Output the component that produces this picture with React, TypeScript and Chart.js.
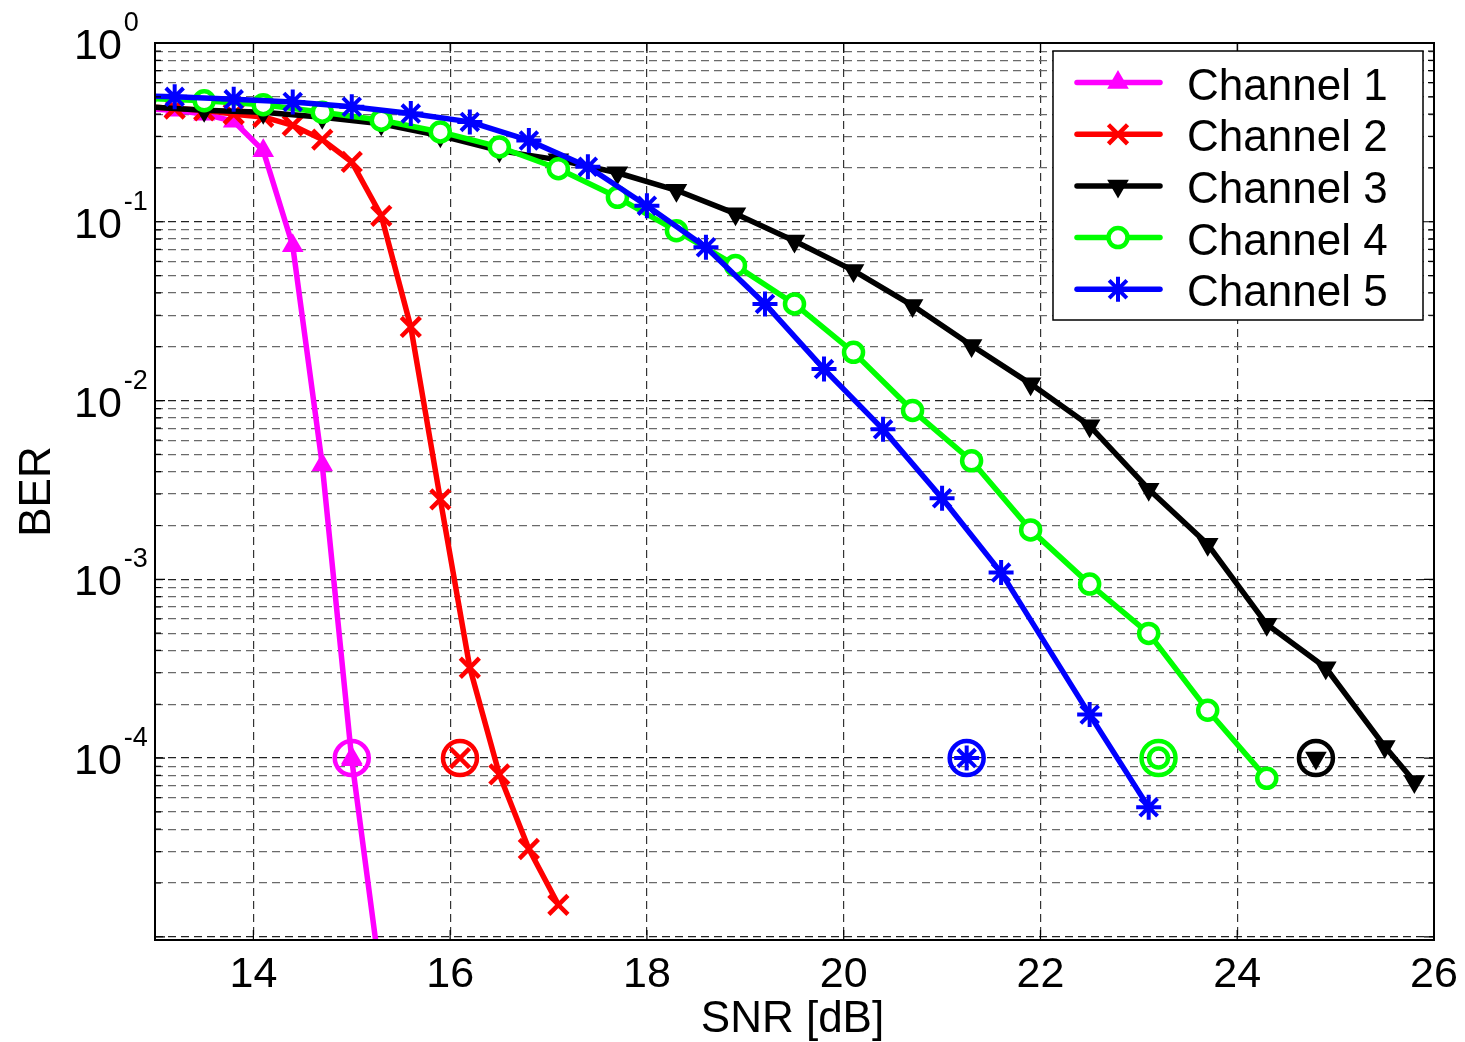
import React, { useEffect, useRef } from 'react';
import { Chart, registerables } from 'chart.js';

Chart.register(...registerables);

// ---------------- data ----------------
const channelNames = ['Channel 1', 'Channel 2', 'Channel 3', 'Channel 4', 'Channel 5'];
const channelColors = ['#ff00ff', '#ff0000', '#000000', '#00ff00', '#0000ff'];

const snrCh1 = [12.9, 13.2, 13.5, 13.8, 14.1, 14.4, 14.7, 15.0, 15.3];
const berCh1 = [0.43, 0.42, 0.4, 0.365, 0.25, 0.0734, 0.00436, 9.8e-5, 5.5e-6];

const snrCh2 = [12.9, 13.2, 13.5, 13.8, 14.1, 14.4, 14.7, 15.0, 15.3, 15.6, 15.9, 16.2, 16.5, 16.8, 17.1];
const berCh2 = [0.44, 0.43, 0.42, 0.4, 0.386, 0.346, 0.288, 0.216, 0.108, 0.0258, 0.0028, 3.2e-4, 8.1e-5, 3.1e-5, 1.51e-5];

const snrCh3 = [12.9, 13.5, 14.1, 14.7, 15.3, 15.9, 16.5, 17.1, 17.7, 18.3, 18.9, 19.5, 20.1, 20.7, 21.3, 21.9, 22.5, 23.1, 23.7, 24.3, 24.9, 25.5, 25.8];
const berCh3 = [0.44, 0.42, 0.41, 0.384, 0.353, 0.303, 0.25, 0.222, 0.188, 0.15, 0.111, 0.078, 0.0533, 0.034, 0.0203, 0.0124, 0.00722, 0.00319, 0.00157, 5.6e-4, 3.2e-4, 1.16e-4, 7.4e-5];

const snrCh4 = [12.9, 13.5, 14.1, 14.7, 15.3, 15.9, 16.5, 17.1, 17.7, 18.3, 18.9, 19.5, 20.1, 20.7, 21.3, 21.9, 22.5, 23.1, 23.7, 24.3];
const berCh4 = [0.49, 0.475, 0.452, 0.41, 0.37, 0.318, 0.262, 0.198, 0.137, 0.089, 0.057, 0.0347, 0.0186, 0.0088, 0.0046, 0.00189, 9.4e-4, 4.98e-4, 1.85e-4, 7.7e-5];

const snrCh5 = [12.6, 13.2, 13.8, 14.4, 15.0, 15.6, 16.2, 16.8, 17.4, 18.0, 18.6, 19.2, 19.8, 20.4, 21.0, 21.6, 22.5, 23.1];
const berCh5 = [0.51, 0.5, 0.484, 0.468, 0.44, 0.403, 0.362, 0.285, 0.203, 0.123, 0.072, 0.0347, 0.015, 0.0069, 0.00284, 0.00109, 1.75e-4, 5.3e-5];

// SNR required for the target BER (circled markers), per channel 1..5
const thresholdSnr = [15.0, 16.1, 24.8, 23.2, 21.25];
const thresholdBer = [1e-4, 1e-4, 1e-4, 1e-4, 1e-4];

// ---------------- axes ----------------
const xTicks = [14, 16, 18, 20, 22, 24, 26];
const yDecadeTicks = [1, 0.1, 0.01, 0.001, 0.0001];
const yExponentLabels = ['0', '-1', '-2', '-3', '-4'];
const yGridDecades = [1e-5, 1e-4, 1e-3, 1e-2, 1e-1];
const yGridMantissas = [1, 2, 3, 4, 5, 6, 7, 8, 9];
const xTitle = 'SNR [dB]';
const yTitle = 'BER';

const FONT = "'Liberation Sans', Arial, Helvetica, sans-serif";
const LINE_WIDTH = 5.5;

type MarkerSpec = { style: string; radius: number; rotation: number; fill: string; width: number };
const markerSpecs: MarkerSpec[] = [
  { style: 'triangle', radius: 10, rotation: 0, fill: '#ff00ff', width: 2.5 },
  { style: 'crossRot', radius: 13.5, rotation: 0, fill: '#ff0000', width: 4.5 },
  { style: 'triangle', radius: 10, rotation: 180, fill: '#000000', width: 2.5 },
  { style: 'circle', radius: 9.5, rotation: 0, fill: '#ffffff', width: 4.5 },
  { style: 'star', radius: 12.5, rotation: 0, fill: '#0000ff', width: 4 },
];

const snrSeries = [snrCh1, snrCh2, snrCh3, snrCh4, snrCh5];
const berSeries = [berCh1, berCh2, berCh3, berCh4, berCh5];

function drawMarker(ctx: CanvasRenderingContext2D, m: MarkerSpec, color: string, x: number, y: number) {
  const r = m.radius;
  let rad = (m.rotation * Math.PI) / 180;
  ctx.save();
  ctx.strokeStyle = color;
  ctx.fillStyle = m.fill;
  ctx.lineWidth = m.width;
  ctx.setLineDash([]);
  ctx.beginPath();
  if (m.style === 'circle') {
    ctx.arc(x, y, r, 0, Math.PI * 2);
    ctx.closePath();
    ctx.fill();
    ctx.stroke();
  } else if (m.style === 'triangle') {
    ctx.moveTo(x + Math.sin(rad) * r, y - Math.cos(rad) * r);
    rad += (2 * Math.PI) / 3;
    ctx.lineTo(x + Math.sin(rad) * r, y - Math.cos(rad) * r);
    rad += (2 * Math.PI) / 3;
    ctx.lineTo(x + Math.sin(rad) * r, y - Math.cos(rad) * r);
    ctx.closePath();
    ctx.fill();
    ctx.stroke();
  } else {
    const spokes = (a: number) => {
      const xo = Math.cos(a) * r;
      const yo = Math.sin(a) * r;
      ctx.moveTo(x - xo, y - yo);
      ctx.lineTo(x + xo, y + yo);
      ctx.moveTo(x + yo, y - xo);
      ctx.lineTo(x - yo, y + xo);
    };
    if (m.style === 'star') spokes(rad);
    spokes(rad + Math.PI / 4);
    ctx.stroke();
  }
  ctx.restore();
}

const matlabDecor = {
  id: 'matlabDecor',
  afterDraw(chart: any) {
    const { ctx, chartArea: a, scales } = chart;
    const xs = scales.x;
    const ys = scales.y;
    ctx.save();
    ctx.setLineDash([]);
    ctx.strokeStyle = '#000';
    ctx.lineWidth = 1.2;
    ctx.beginPath();
    yGridDecades.forEach((d) => {
      yGridMantissas.forEach((m) => {
        const v = d * m;
        if (v < ys.min || v > ys.max) return;
        const y = ys.getPixelForValue(v);
        const len = m === 1 ? 10 : 6;
        ctx.moveTo(a.left, y);
        ctx.lineTo(a.left + len, y);
        ctx.moveTo(a.right, y);
        ctx.lineTo(a.right - len, y);
      });
    });
    xTicks.forEach((v) => {
      const x = xs.getPixelForValue(v);
      ctx.moveTo(x, a.bottom);
      ctx.lineTo(x, a.bottom - 10);
      ctx.moveTo(x, a.top);
      ctx.lineTo(x, a.top + 10);
    });
    ctx.stroke();

    // axes box
    ctx.lineWidth = 2;
    ctx.strokeRect(a.left, a.top, a.right - a.left, a.bottom - a.top);

    // y tick labels 10^n
    ctx.fillStyle = '#000';
    ctx.textAlign = 'left';
    ctx.textBaseline = 'alphabetic';
    yDecadeTicks.forEach((v, i) => {
      const y = ys.getPixelForValue(v);
      ctx.font = `43px ${FONT}`;
      const x0 = a.left - 81;
      ctx.fillText('10', x0, y + 16);
      const w = ctx.measureText('10').width;
      ctx.font = `27px ${FONT}`;
      ctx.fillText(yExponentLabels[i], x0 + w + 2, y - 12);
    });

    // x tick labels
    ctx.font = `43px ${FONT}`;
    ctx.textAlign = 'center';
    xTicks.forEach((v) => {
      ctx.fillText(String(v), xs.getPixelForValue(v), a.bottom + 47);
    });

    // axis titles
    ctx.font = `44px ${FONT}`;
    ctx.fillText(xTitle, (a.left + a.right) / 2 - 2, a.bottom + 92);
    ctx.save();
    ctx.translate(a.left - 117, (a.top + a.bottom) / 2);
    ctx.rotate(-Math.PI / 2);
    ctx.textBaseline = 'middle';
    ctx.fillText(yTitle, 0, 0);
    ctx.restore();

    // legend
    const lw = 370;
    const lh = 269;
    const lx = a.right - 381;
    const ly = a.top + 8;
    ctx.fillStyle = '#fff';
    ctx.fillRect(lx, ly, lw, lh);
    ctx.strokeStyle = '#000';
    ctx.lineWidth = 1.5;
    ctx.strokeRect(lx, ly, lw, lh);
    channelNames.forEach((name, i) => {
      const ry = ly + 31.6 + i * 51.67;
      ctx.save();
      ctx.strokeStyle = channelColors[i];
      ctx.lineWidth = LINE_WIDTH;
      ctx.lineCap = 'round';
      ctx.beginPath();
      ctx.moveTo(lx + 24, ry);
      ctx.lineTo(lx + 107, ry);
      ctx.stroke();
      ctx.restore();
      drawMarker(ctx, markerSpecs[i], channelColors[i], lx + 65, ry);
      ctx.fillStyle = '#000';
      ctx.font = `44px ${FONT}`;
      ctx.textAlign = 'left';
      ctx.textBaseline = 'alphabetic';
      ctx.fillText(name, lx + 134, ry + 17);
    });
    ctx.restore();
  },
};

export default function App() {
  const ref = useRef<HTMLCanvasElement | null>(null);

  useEffect(() => {
    const canvas = ref.current;
    if (!canvas) return;

    const datasets: any[] = [];
    channelNames.forEach((name, i) => {
      const m = markerSpecs[i];
      datasets.push({
        label: name,
        data: snrSeries[i].map((x, k) => ({ x, y: berSeries[i][k] })),
        borderColor: channelColors[i],
        backgroundColor: m.fill,
        borderWidth: LINE_WIDTH,
        borderCapStyle: 'round',
        borderJoinStyle: 'round',
        tension: 0,
        fill: false,
        pointStyle: m.style,
        pointRadius: m.radius,
        pointRotation: m.rotation,
        pointBorderWidth: m.width,
        pointBorderColor: channelColors[i],
        pointBackgroundColor: m.fill,
        clip: 0,
        order: 10 - i,
      });
    });
    channelNames.forEach((name, i) => {
      const m = markerSpecs[i];
      datasets.push({
        label: name + ' target',
        data: [{ x: thresholdSnr[i], y: thresholdBer[i] }],
        showLine: false,
        pointStyle: 'circle',
        pointRadius: 17,
        pointBorderWidth: 4.5,
        pointBorderColor: channelColors[i],
        pointBackgroundColor: 'rgba(0,0,0,0)',
        order: 1,
      });
      datasets.push({
        label: name + ' target mark',
        data: [{ x: thresholdSnr[i], y: thresholdBer[i] }],
        showLine: false,
        pointStyle: m.style,
        pointRadius: m.radius,
        pointRotation: m.rotation,
        pointBorderWidth: m.width,
        pointBorderColor: channelColors[i],
        pointBackgroundColor: m.style === 'circle' ? 'rgba(0,0,0,0)' : m.fill,
        order: 0,
      });
    });

    const yGridTicks: { value: number; major: boolean }[] = [];
    yGridDecades.forEach((d) => yGridMantissas.forEach((m) => yGridTicks.push({ value: d * m, major: m === 1 })));
    yGridTicks.push({ value: 1, major: true });

    const chart = new Chart(canvas, {
      type: 'line',
      data: { datasets },
      options: {
        responsive: false,
        animation: false,
        events: [],
        layout: { padding: { top: 43, right: 31, left: 0, bottom: 0 } },
        plugins: {
          legend: { display: false },
          tooltip: { enabled: false },
          title: { display: false },
        },
        scales: {
          x: {
            type: 'linear',
            min: 13,
            max: 26,
            afterBuildTicks: (s: any) => {
              s.ticks = xTicks.map((v) => ({ value: v }));
            },
            afterFit: (s: any) => {
              s.height = 102;
            },
            ticks: { display: false, autoSkip: false },
            grid: { color: '#333333', lineWidth: 1.2, drawTicks: false, borderDash: [8, 5] },
            border: { display: false, dash: [8, 5] },
          },
          y: {
            type: 'logarithmic',
            min: 9.6e-6,
            max: 1,
            afterBuildTicks: (s: any) => {
              s.ticks = yGridTicks.map((t) => ({ ...t }));
            },
            afterFit: (s: any) => {
              s.width = 155;
            },
            ticks: { display: false, autoSkip: false },
            grid: {
              color: (c: any) => (c.tick && c.tick.major ? '#222222' : '#6a6a6a'),
              lineWidth: 1.2,
              drawTicks: false,
              borderDash: [8, 5],
            },
            border: { display: false, dash: [8, 5] },
          },
        },
      } as any,
      plugins: [matlabDecor],
    });

    return () => {
      chart.destroy();
    };
  }, []);

  return (
    <div style={{ position: 'absolute', left: 0, top: 0, width: 1465, height: 1042, background: '#fff' }}>
      <canvas ref={ref} width={1465} height={1042} style={{ width: 1465, height: 1042, display: 'block' }} />
    </div>
  );
}
